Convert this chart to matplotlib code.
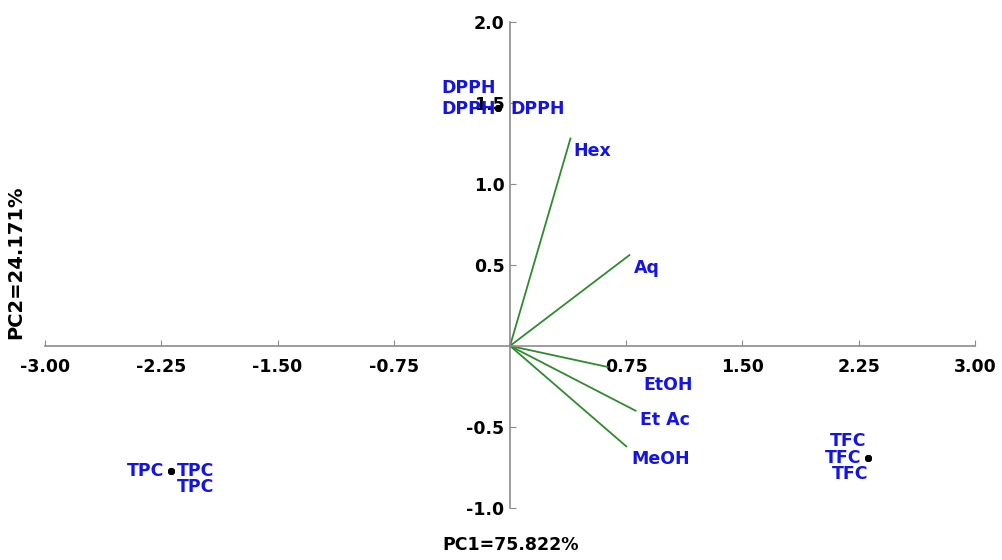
import matplotlib
matplotlib.use('Agg')
import matplotlib.pyplot as plt
import numpy as np

plt.rcParams['font.family'] = ['DejaVu Sans']

# loadings (green vectors)
var_names = ['Hex', 'Aq', 'EtOH', 'Et Ac', 'MeOH']
var_x = [0.39, 0.77, 0.63, 0.81, 0.75]
var_y = [1.28, 0.56, -0.13, -0.40, -0.62]
# where the loading names sit
var_lx = [0.53, 0.88, 1.02, 1.00, 0.97]
var_ly = [1.20, 0.48, -0.24, -0.46, -0.70]

# scores (three replicates per assay, nearly coincident)
obs_names = ['DPPH', 'DPPH', 'DPPH', 'TPC', 'TPC', 'TPC', 'TFC', 'TFC', 'TFC']
obs_x = [-0.08, -0.08, -0.08, -2.19, -2.19, -2.19, 2.31, 2.31, 2.31]
obs_y = [1.47, 1.47, 1.47, -0.77, -0.77, -0.77, -0.69, -0.69, -0.69]
# label offsets in points, so the replicate labels do not pile up
obs_dx = [-21, -21, 29, -18, 18, 18, -14, -18, -13]
obs_dy = [14, -1, -1, 0, 0, -12, 12, 0, -12]

xticks = [-3.00, -2.25, -1.50, -0.75, 0.75, 1.50, 2.25, 3.00]
yticks = [-1.0, -0.5, 0.5, 1.0, 1.5, 2.0]

fig = plt.figure(figsize=(10.03, 5.6), dpi=100)
ax = fig.add_axes([0.045, 0.093, 0.927, 0.868])

for n, x, y in zip(var_names, var_x, var_y):
    ax.plot([0, x], [0, y], color='#2e8b2e', lw=1.3, zorder=2)

ax.scatter(obs_x, obs_y, s=16, color='black', zorder=3)
for n, x, y, dx, dy in zip(obs_names, obs_x, obs_y, obs_dx, obs_dy):
    ax.annotate(n, (x, y), xytext=(dx, dy), textcoords='offset points',
                ha='center', va='center', color='#1414e6', fontsize=12.5,
                fontweight='bold', zorder=4)

for n, x, y in zip(var_names, var_lx, var_ly):
    ax.text(x, y, n, ha='center', va='center', color='#1414e6',
            fontsize=12.5, fontweight='bold', zorder=4)

ax.set_xlim(-3.0, 3.0)
ax.set_ylim(-1.0, 2.0)
ax.spines['left'].set_position('zero')
ax.spines['bottom'].set_position('zero')
ax.spines['right'].set_visible(False)
ax.spines['top'].set_visible(False)
for s in ['left', 'bottom']:
    ax.spines[s].set_color('#8c8c8c')
    ax.spines[s].set_linewidth(1.2)

ax.set_xticks(xticks)
ax.set_xticklabels(['%.2f' % t for t in xticks])
ax.set_yticks(yticks)
ax.set_yticklabels(['%.1f' % t for t in yticks])
ax.tick_params(axis='both', colors='#8c8c8c', labelcolor='black',
               labelsize=12.5, length=4, direction='in')
ax.tick_params(axis='x', pad=9)
ax.tick_params(axis='y', pad=4)
for lab in ax.get_xticklabels() + ax.get_yticklabels():
    lab.set_fontweight('bold')

fig.text(0.509, 0.027, 'PC1=75.822%', ha='center', va='center',
         fontsize=12.5, fontweight='bold')
fig.text(0.016, 0.532, 'PC2=24.171%', ha='center', va='center',
         rotation=90, fontsize=14, fontweight='bold')

fig.savefig('out.png', dpi=100)
